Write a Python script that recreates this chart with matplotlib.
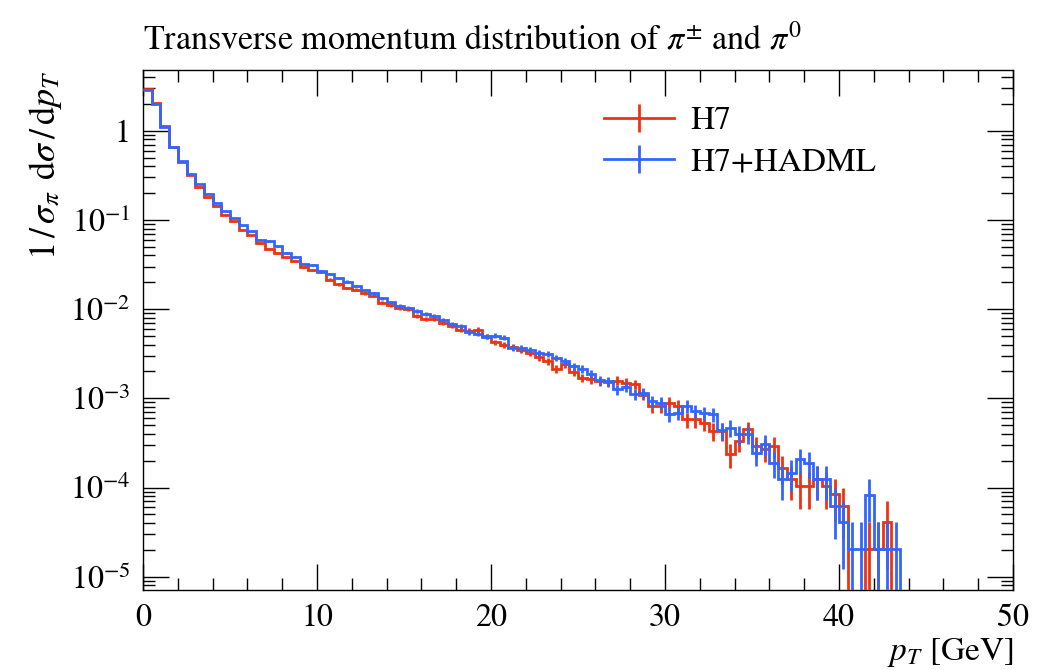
import numpy as np
import matplotlib
matplotlib.use("Agg")
import matplotlib.pyplot as plt
from matplotlib.lines import Line2D
from matplotlib.ticker import FixedLocator, FuncFormatter, NullFormatter

# ---------------- data ----------------
bin_edges = np.linspace(0.0, 50.0, 101)   # 0.5 GeV bins
unit_weight = 2.07e-5                      # value of a single entry (read from tail)

h7 = [2.95, 2.05, 1.12, 0.65, 0.45, 0.319, 0.234, 0.181, 0.145, 0.115,
      0.0966, 0.078, 0.0673, 0.055, 0.047, 0.0427, 0.038, 0.0344, 0.030, 0.0277,
      0.0262, 0.0214, 0.0189, 0.0173, 0.0165, 0.0151, 0.0141, 0.0118, 0.0110, 0.0103,
      0.0100, 0.0083, 0.0078, 0.0077, 0.0070, 0.00645, 0.0059, 0.00575, 0.0059, 0.0050,
      0.00426, 0.0040, 0.0038, 0.00347, 0.00324, 0.00289, 0.00261, 0.00214, 0.00244, 0.00196,
      0.0017, 0.00163, 0.00156, 0.00152, 0.00158, 0.0015, 0.00143, 0.0011, 0.00082, 0.00082,
      0.00089, 0.00082, 0.00058, 0.00058, 0.00053, 0.00043, 0.00043, 0.000235, 0.00033, 0.00045,
      0.00029, 0.000268, 0.00029, 0.000167, 0.000124, 0.000104, 0.000104, 0.000124, 0.000104, 8.4e-5,
      6.2e-5, 0, 0, 2.07e-5, 2.07e-5, 4.14e-5, 0, 0, 0, 0,
      0, 0, 0, 0, 0, 0, 0, 0, 0, 0]

h7_hadml = [2.83, 1.99, 1.10, 0.65, 0.453, 0.33, 0.253, 0.195, 0.155, 0.125,
            0.105, 0.087, 0.0746, 0.060, 0.058, 0.0506, 0.0427, 0.0385, 0.0324, 0.031,
            0.027, 0.025, 0.0224, 0.0204, 0.0182, 0.0164, 0.015, 0.0132, 0.0119, 0.0109,
            0.0104, 0.0096, 0.0088, 0.0083, 0.00765, 0.00684, 0.00645, 0.0055, 0.00533, 0.0049,
            0.00506, 0.0048, 0.00369, 0.0037, 0.00347, 0.00324, 0.00318, 0.00285, 0.00261, 0.0023,
            0.00214, 0.00189, 0.00159, 0.00156, 0.00126, 0.00135, 0.00111, 0.00116, 0.00093, 0.00089,
            0.00066, 0.00069, 0.00082, 0.00072, 0.00069, 0.00066, 0.00044, 0.00047, 0.000394, 0.0004,
            0.000246, 0.000305, 0.00019, 0.000124, 0.000147, 0.000207, 0.00019, 0.000124, 0.000124, 6.2e-5,
            4.14e-5, 2.07e-5, 2.07e-5, 8.3e-5, 2.07e-5, 2.07e-5, 2.07e-5, 0, 0, 0,
            0, 0, 0, 0, 0, 0, 0, 0, 0, 0]

series_labels = ["H7", "H7+HADML"]
series_colors = ["#EE3311", "#3366FF"]

x_major = [0, 10, 20, 30, 40, 50]
y_major = [1, 1e-1, 1e-2, 1e-3, 1e-4, 1e-5]
y_major_labels = ["1", r"$10^{-1}$", r"$10^{-2}$", r"$10^{-3}$", r"$10^{-4}$", r"$10^{-5}$"]

# ---------------- style ----------------
plt.rcParams["font.family"] = ["STIXGeneral", "DejaVu Serif"]
plt.rcParams["mathtext.fontset"] = "stix"
FS = 24
FS_TICK = 23

fig = plt.figure(figsize=(10.41, 6.70), dpi=100)
ax = fig.add_axes([143 / 1041, 1 - 590 / 670, (1013 - 143) / 1041, (590 - 70) / 670])

edges = np.asarray(bin_edges)
centers = 0.5 * (edges[:-1] + edges[1:])
tiny = 1e-12
for vals, col in zip([h7, h7_hadml], series_colors):
    v = np.asarray(vals, dtype=float)
    ax.stairs(np.where(v > 0, v, tiny), edges, color=col, lw=2.0, baseline=None, zorder=3)
    m = v > 0
    err = np.sqrt(v * unit_weight)
    lo = np.maximum(v - err, tiny)
    hi = v + err
    ax.vlines(centers[m], lo[m], hi[m], color=col, lw=2.0, zorder=3)

ax.set_yscale("log")
ax.set_xlim(0, 50)
ax.set_ylim(7.1e-6, 4.8)

ax.xaxis.set_major_locator(FixedLocator(x_major))
ax.xaxis.set_minor_locator(FixedLocator(np.arange(0, 51, 2)))
ax.set_xticklabels([str(t) for t in x_major])

minors = []
for d in range(-6, 1):
    for k in range(2, 10):
        minors.append(k * 10.0 ** d)
ax.yaxis.set_major_locator(FixedLocator(y_major))
ax.yaxis.set_minor_locator(FixedLocator(minors))
ax.yaxis.set_major_formatter(FuncFormatter(lambda val, pos: y_major_labels[y_major.index(min(y_major, key=lambda t: abs(np.log10(t) - np.log10(val))))]))
ax.yaxis.set_minor_formatter(NullFormatter())

ax.tick_params(which="both", direction="in", top=True, right=True, width=1.0, labelsize=FS_TICK)
ax.tick_params(which="major", length=19)
ax.tick_params(which="minor", length=8.5)
ax.tick_params(axis="x", which="major", pad=10)
ax.tick_params(axis="y", which="major", pad=9)
for s in ax.spines.values():
    s.set_linewidth(1.0)

ax.set_title(r"Transverse momentum distribution of $\pi^{\pm}$ and $\pi^{0}$",
             loc="left", fontsize=FS + 0.5, pad=15)
ax.set_xlabel(r"$p_T$ [GeV]", loc="right", fontsize=FS, labelpad=2)
ax.set_ylabel(r"$1\,/\,\sigma_{\pi}\;\,\mathrm{d}\sigma\,/\,\mathrm{d}p_T$", loc="top",
              fontsize=FS + 2, labelpad=4)

handles = [Line2D([0], [0], color=c, lw=2.0, marker="|", markersize=20, markeredgewidth=2.0)
           for c in series_colors]
ax.legend(handles, series_labels, loc="upper left", bbox_to_anchor=(604 / 1041, 1 - 106 / 670),
          bbox_transform=fig.transFigure, frameon=False, fontsize=FS, handlelength=2.1,
          handletextpad=0.5, borderpad=0, borderaxespad=0, labelspacing=0.32)

fig.savefig("out.png", dpi=100)
